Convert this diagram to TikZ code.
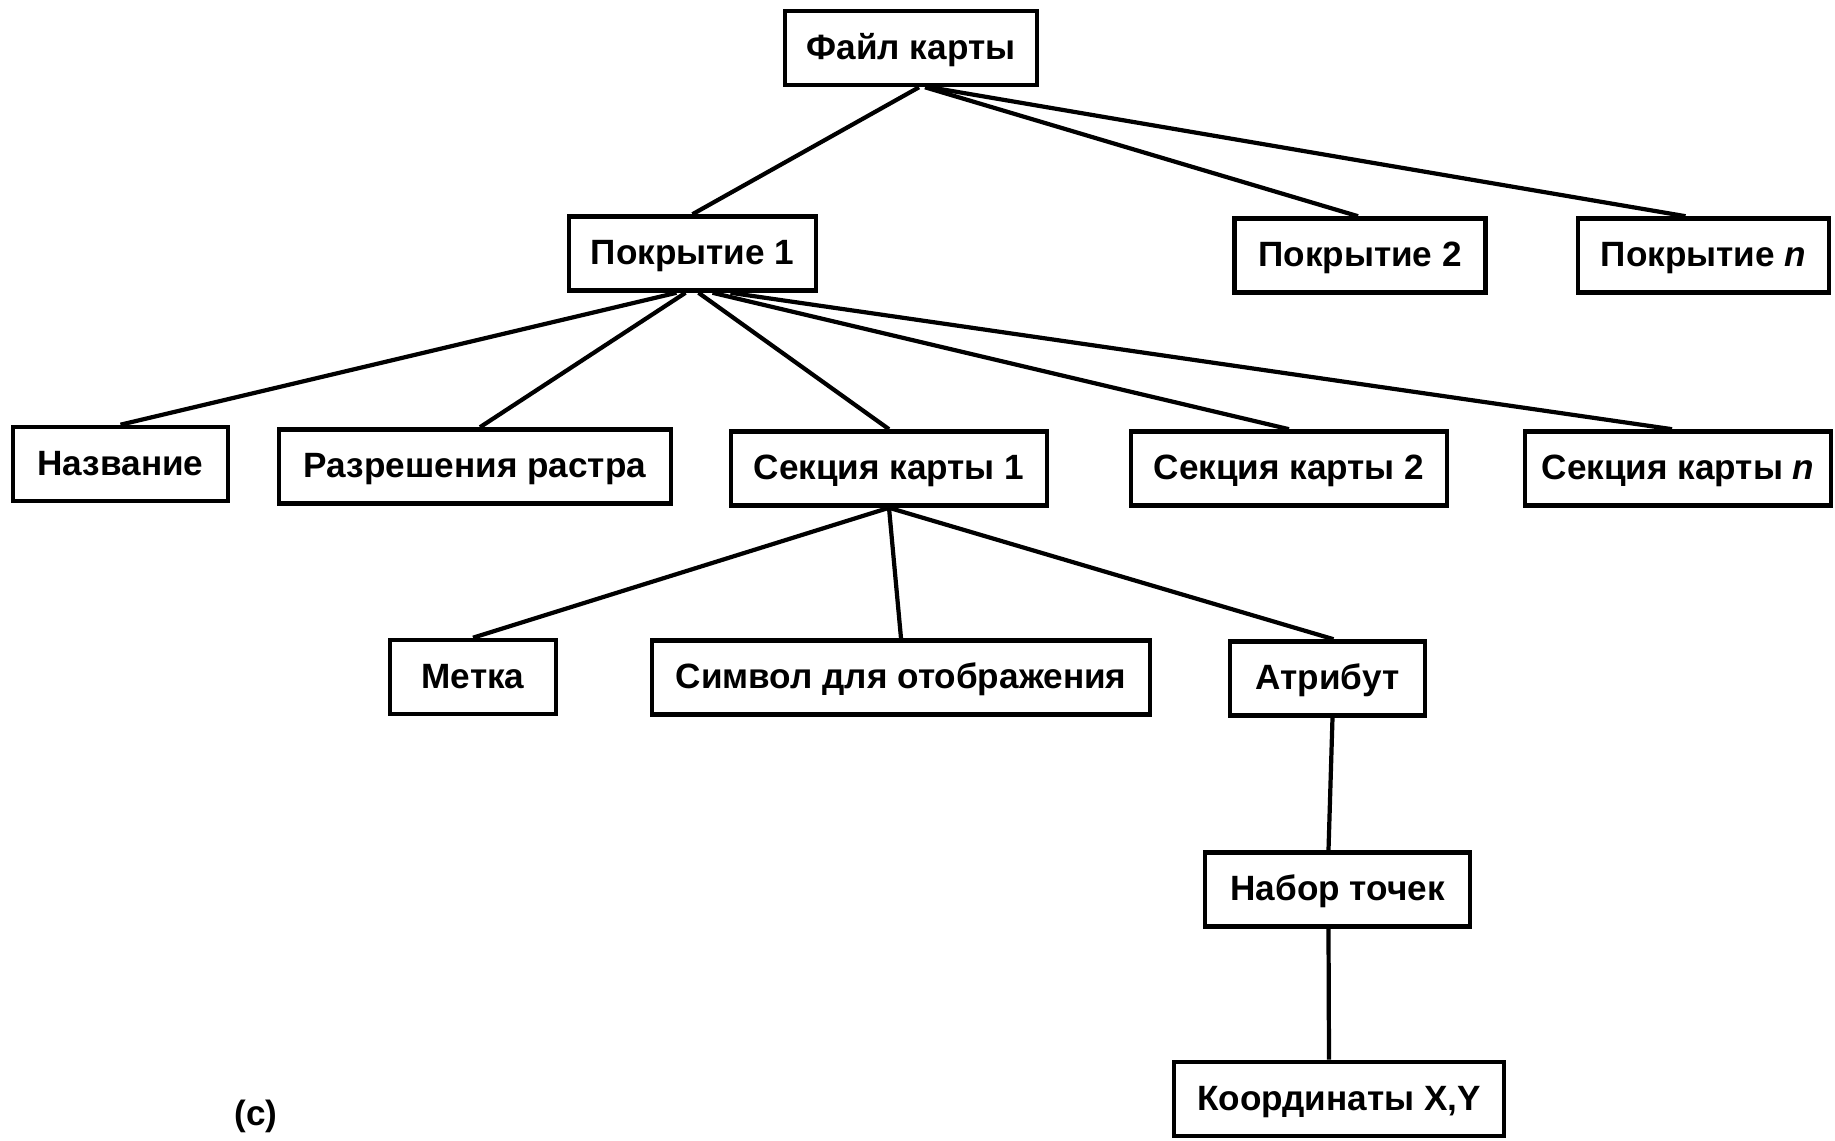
\documentclass[tikz,border=0pt]{standalone}
\usepackage{fontspec}
\setmainfont{Liberation Sans}
\usetikzlibrary{positioning}

\begin{document}
\begin{tikzpicture}[every node/.style={font=\bfseries\fontsize{10}{12}\selectfont, align=center},
    box/.style={draw, line width=1.3pt, minimum height=0.74cm, inner sep=0pt,
      text height=1.6ex, text depth=0.4ex},
    link/.style={line width=1.2pt}]
  \useasboundingbox (0,0) rectangle (18.35,-11.41);
  % top level
  \node[box, minimum width=2.52cm] (file) at (9.11,-0.48) {Файл карты};
  % coverages
  \node[box, minimum width=2.47cm] (cov1) at (6.925,-2.535) {Покрытие 1};
  \node[box, minimum width=2.51cm] (cov2) at (13.60,-2.555) {Покрытие 2};
  \node[box, minimum width=2.51cm] (covn) at (17.035,-2.555) {Покрытие \textit{n}};
  % parts of coverage 1
  \node[box, minimum width=2.15cm] (name) at (1.205,-4.64) {Название};
  \node[box, minimum width=3.92cm] (res) at (4.75,-4.665) {Разрешения растра};
  \node[box, minimum width=3.16cm] (sec1) at (8.89,-4.685) {Секция карты 1};
  \node[box, minimum width=3.16cm] (sec2) at (12.89,-4.685) {Секция карты 2};
  \node[box, minimum width=3.06cm] (secn) at (16.78,-4.685) {Секция карты \textit{n}};
  % parts of section 1
  \node[box, minimum width=1.66cm] (mark) at (4.73,-6.77) {Метка};
  \node[box, minimum width=4.98cm] (sym) at (9.01,-6.775) {Символ для отображения};
  \node[box, minimum width=1.95cm] (attr) at (13.275,-6.785) {Атрибут};
  \node[box, minimum width=2.65cm] (pts) at (13.375,-8.895) {Набор точек};
  \node[box, minimum width=3.30cm] (xy) at (13.39,-10.99) {Координаты X,Y};
  \node (lbl) at (2.56,-11.16) {(c)};

  \draw[link] ([xshift=0.08cm]file.south) -- (cov1.north);
  \draw[link] ([xshift=0.14cm]file.south) -- ([xshift=-0.02cm]cov2.north);
  \draw[link] ([xshift=0.19cm]file.south) -- ([xshift=-0.18cm]covn.north);

  \draw[link] ([xshift=-0.16cm]cov1.south) -- (name.north);
  \draw[link] ([xshift=-0.07cm]cov1.south) -- ([xshift=0.05cm]res.north);
  \draw[link] ([xshift=0.06cm]cov1.south) -- (sec1.north);
  \draw[link] ([xshift=0.20cm]cov1.south) -- (sec2.north);
  \draw[link] ([xshift=0.38cm]cov1.south) -- ([xshift=-0.06cm]secn.north);

  \draw[link] (sec1.south) -- (mark.north);
  \draw[link] (sec1.south) -- (sym.north);
  \draw[link] (sec1.south) -- ([xshift=0.06cm]attr.north);

  \draw[link] ([xshift=0.05cm]attr.south) -- ([xshift=-0.09cm]pts.north);
  \draw[link] ([xshift=-0.09cm]pts.south) -- ([xshift=-0.1cm]xy.north);
\end{tikzpicture}
\end{document}
